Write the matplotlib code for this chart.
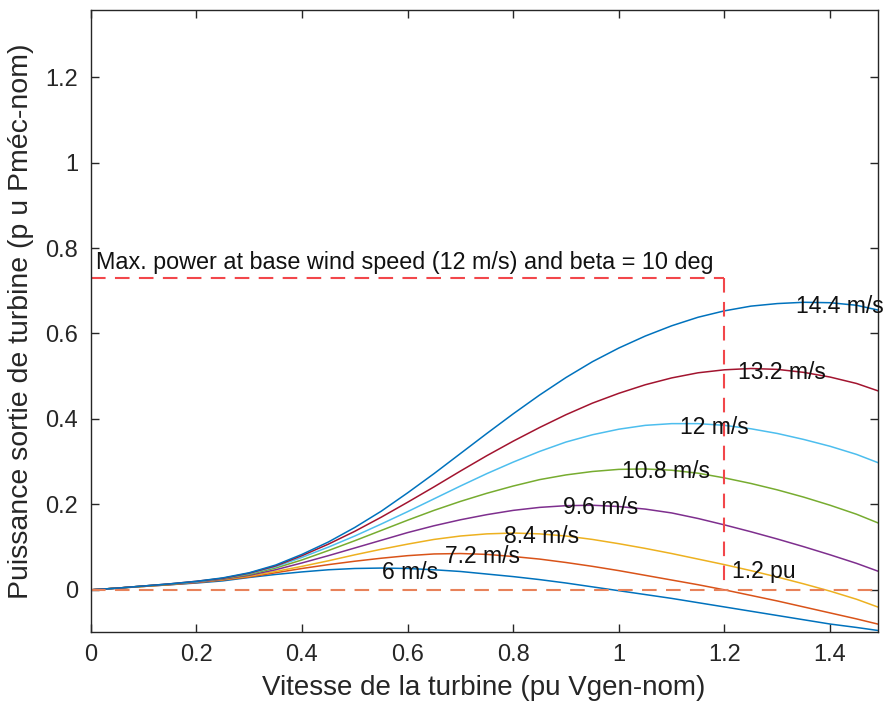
import matplotlib
matplotlib.use("Agg")
import matplotlib.pyplot as plt

plt.rcParams["font.family"] = ["Liberation Sans", "DejaVu Sans"]

# turbine speed (pu of nominal generator speed)
speed_pu = [0.0, 0.05, 0.1, 0.15, 0.2, 0.25, 0.3, 0.35, 0.4, 0.45, 0.5,
            0.55, 0.6, 0.65, 0.7, 0.75, 0.8, 0.85, 0.9, 0.95, 1.0,
            1.05, 1.1, 1.15, 1.2, 1.25, 1.3, 1.35, 1.4, 1.45, 1.49]

# mechanical output power (pu) for each wind speed
p_6 = [0, .004, .008, .012, .016, .021, .029, .036, .042, .047, .050,
       .051, .050, .047, .043, .037, .031, .024, .016, .007, -.002,
       -.011, -.020, -.030, -.040, -.050, -.060, -.070, -.080, -.088, -.095]
p_7_2 = [0, .004, .008, .012, .017, .023, .030, .040, .050, .059, .067,
         .074, .080, .084, .085, .083, .078, .072, .064, .055, .045,
         .034, .023, .012, .000, -.013, -.026, -.040, -.054, -.068, -.080]
p_8_4 = [0, .004, .008, .013, .018, .024, .032, .043, .055, .068, .082,
         .095, .107, .118, .126, .131, .133, .131, .126, .118, .108,
         .097, .085, .072, .059, .045, .030, .014, -.003, -.022, -.040]
p_9_6 = [0, .004, .009, .013, .018, .025, .034, .047, .063, .080, .098,
         .116, .134, .150, .164, .176, .186, .193, .197, .198, .195,
         .189, .180, .167, .152, .136, .119, .101, .082, .062, .044]
p_10_8 = [0, .004, .009, .013, .019, .026, .036, .051, .070, .092, .115,
          .139, .163, .186, .207, .226, .243, .258, .269, .277, .282,
          .283, .280, .273, .262, .249, .234, .217, .198, .177, .157]
p_12 = [0, .004, .009, .014, .019, .027, .038, .054, .076, .100, .126,
        .154, .183, .213, .243, .272, .299, .324, .346, .363, .376,
        .385, .389, .389, .385, .377, .366, .352, .336, .317, .298]
p_13_2 = [0, .004, .009, .014, .020, .027, .039, .056, .080, .107, .137,
          .170, .205, .241, .278, .314, .348, .380, .410, .437, .460,
          .480, .496, .508, .515, .518, .516, .509, .498, .483, .466]
p_14_4 = [0, .004, .009, .014, .020, .028, .040, .058, .083, .112, .146,
          .184, .227, .272, .319, .366, .412, .456, .497, .534, .566,
          .594, .618, .638, .653, .664, .670, .673, .672, .666, .655]

curves = [p_6, p_7_2, p_8_4, p_9_6, p_10_8, p_12, p_13_2, p_14_4]
wind_labels = ["6 m/s", "7.2 m/s", "8.4 m/s", "9.6 m/s",
               "10.8 m/s", "12 m/s", "13.2 m/s", "14.4 m/s"]
label_x = [0.551, 0.670, 0.783, 0.894, 1.005, 1.115, 1.226, 1.335]
label_y = [0.040, 0.077, 0.124, 0.192, 0.276, 0.381, 0.508, 0.662]

colors = ["#0072BD", "#D95319", "#EDB120", "#7E2F8E",
          "#77AC30", "#4DBEEE", "#A2142F", "#0072BD"]

base_speed = 1.2
max_power = 0.73
x_max = 1.49

fig = plt.figure(figsize=(8.85, 7.16), dpi=100)
ax = fig.add_axes([0.1025, 0.1177, 0.8892, 0.8683])

for p, c in zip(curves, colors):
    ax.plot(speed_pu, p, color=c, lw=1.1)

ax.plot([0, x_max], [0, 0], color="#E8825A", lw=1.5, dashes=(7, 4.5))
ax.plot([0, base_speed], [max_power, max_power], color="#F2474B",
        lw=1.5, dashes=(7, 4.5))
ax.plot([base_speed, base_speed], [max_power, 0], color="#F2474B",
        lw=1.5, dashes=(7, 4.5))

txt_size = 16.5
for lx, ly, txt in zip(label_x, label_y, wind_labels):
    ax.text(lx, ly, txt, fontsize=txt_size, va="center", ha="left",
            color="#111111")
ax.text(1.214, 0.042, "1.2 pu", fontsize=txt_size, va="center",
        color="#111111")
ax.text(0.01, 0.767, "Max. power at base wind speed (12 m/s) and beta = 10 deg",
        fontsize=16.8, va="center", color="#111111")

ax.set_xlim(0, x_max)
ax.set_ylim(-0.098, 1.357)
ax.set_xticks([0, 0.2, 0.4, 0.6, 0.8, 1.0, 1.2, 1.4])
ax.set_xticklabels(["0", "0.2", "0.4", "0.6", "0.8", "1", "1.2", "1.4"])
ax.set_yticks([0, 0.2, 0.4, 0.6, 0.8, 1.0, 1.2])
ax.set_yticklabels(["0", "0.2", "0.4", "0.6", "0.8", "1", "1.2"])
ax.tick_params(direction="in", top=True, right=True, length=6,
               width=1.0, colors="#262626", labelsize=17, pad=9)
for s in ax.spines.values():
    s.set_color("#262626")
    s.set_linewidth(1.0)

ax.set_xlabel("Vitesse de la turbine (pu Vgen-nom)", fontsize=20,
              color="#262626", labelpad=6)
ax.set_ylabel("Puissance sortie de turbine (p u Pméc-nom)", fontsize=20.5,
              color="#262626", labelpad=8)

fig.savefig("out.png", dpi=100, facecolor="white")
